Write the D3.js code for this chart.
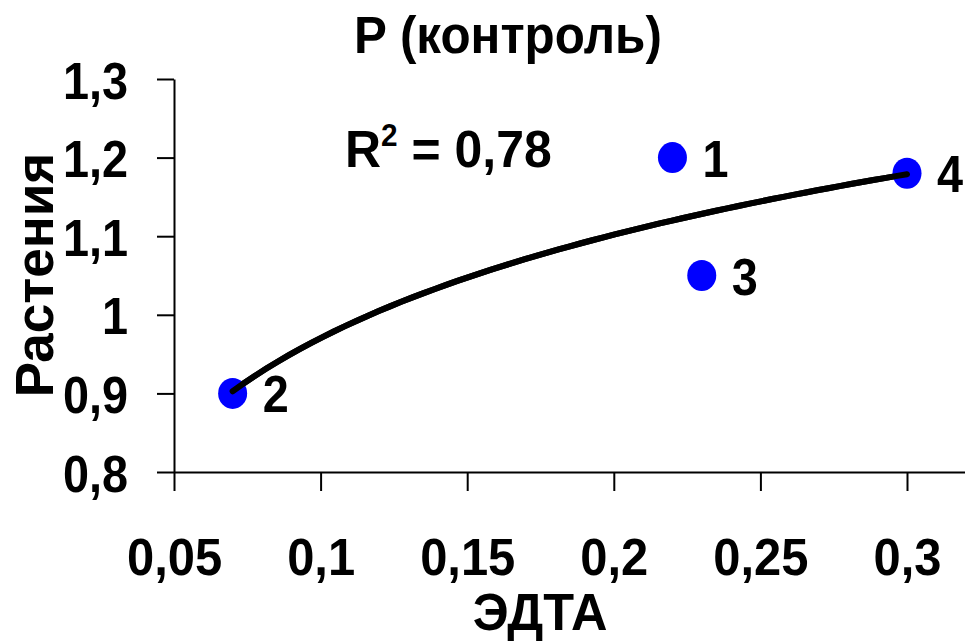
<!DOCTYPE html>
<html>
<head>
<meta charset="utf-8">
<script src="https://cdn.jsdelivr.net/npm/d3@7"></script>
<style>
  body { margin: 0; background: #fff; }
  svg { display: block; font-family: 'Liberation Sans', Arial, sans-serif; font-weight: bold; }
</style>
</head>
<body>
<script>
(function () {
  'use strict'
  const width = 965
  const height = 643

  // values
  const edta = [0.22, 0.07, 0.23, 0.3]
  const plants = [1.2, 0.9, 1.05, 1.18]
  const pointLabels = ['1', '2', '3', '4']
  const xTicks = [0.05, 0.1, 0.15, 0.2, 0.25, 0.3]
  const yTicks = [0.8, 0.9, 1.0, 1.1, 1.2, 1.3]
  const title = 'P (контроль)'
  const xTitle = 'ЭДТА'
  const yTitle = 'Растения'

  const data = edta.map((e, i) => ({ x: e, y: plants[i], label: pointLabels[i] }))

  const x = d3.scaleLinear().domain([0.05, 0.35]).range([174, 1053.6])
  const y = d3.scaleLinear().domain([0.8, 1.3]).range([472, 79])
  const comma = d => String(d).replace('.', ',')
  const squeeze = 0.9 // text in the original is a bit narrow

  const svg = d3.select('body').append('svg')
    .attr('width', width)
    .attr('height', height)

  svg.append('rect').attr('width', width).attr('height', height).attr('fill', '#fff')

  // logarithmic trendline, least squares on the points (like excel does)
  const lx = data.map(d => Math.log(d.x))
  const mx = d3.mean(lx)
  const my = d3.mean(data, d => d.y)
  let sxy = 0, sxx = 0, syy = 0
  data.forEach((d, i) => {
    sxy += (lx[i] - mx) * (d.y - my)
    sxx += (lx[i] - mx) * (lx[i] - mx)
    syy += (d.y - my) * (d.y - my)
  })
  const a = sxy / sxx
  const b = my - a * mx
  const r2 = sxy * sxy / (sxx * syy)
  const [xmin, xmax] = d3.extent(edta)
  const trend = d3.range(0, 61).map(i => {
    const xv = xmin + (xmax - xmin) * i / 60
    return [xv, a * Math.log(xv) + b]
  })
  const trendLine = d3.line().x(d => x(d[0])).y(d => y(d[1]))

  // axes
  const xAxis = svg.append('g')
    .attr('transform', 'translate(0,472)')
    .call(d3.axisBottom(x).tickValues(xTicks).tickSize(19).tickSizeOuter(0).tickFormat(comma))
  const yAxis = svg.append('g')
    .attr('transform', 'translate(174,0)')
    .call(d3.axisLeft(y).tickValues(yTicks).tickSize(17).tickSizeOuter(0).tickFormat(comma))

  svg.selectAll('.domain, .tick line')
    .attr('stroke', '#000')
    .attr('stroke-width', 2)

  xAxis.selectAll('text')
    .attr('y', 0)
    .attr('dy', null)
    .attr('fill', '#000')
    .attr('font-size', 52)
    .attr('transform', 'translate(0,103) scale(0.94,1)')

  yAxis.selectAll('text')
    .attr('x', 0)
    .attr('dy', null)
    .attr('fill', '#000')
    .attr('font-size', 52)
    .attr('text-anchor', 'end')
    .attr('transform', 'translate(-46,19) scale(0.9,1)')

  // trend line
  svg.append('path')
    .datum(trend)
    .attr('fill', 'none')
    .attr('stroke', '#000')
    .attr('stroke-width', 6)
    .attr('stroke-linecap', 'round')
    .attr('d', trendLine)

  // points
  svg.selectAll('.dot')
    .data(data)
    .enter().append('ellipse')
    .attr('class', 'dot')
    .attr('cx', d => x(d.x))
    .attr('cy', d => y(d.y))
    .attr('rx', 14.5)
    .attr('ry', 15.5)
    .attr('fill', '#0000ff')

  // trend again on top of the dots, as in the original
  svg.append('path')
    .datum(trend)
    .attr('fill', 'none')
    .attr('stroke', '#000')
    .attr('stroke-width', 6)
    .attr('stroke-linecap', 'round')
    .attr('d', trendLine)

  svg.selectAll('.point-label')
    .data(data)
    .enter().append('text')
    .attr('class', 'point-label')
    .attr('font-size', 52)
    .attr('transform', d => `translate(${x(d.x) + 30},${y(d.y) + 19}) scale(${squeeze},1)`)
    .text(d => d.label)

  // titles
  svg.append('text')
    .attr('text-anchor', 'middle')
    .attr('font-size', 52)
    .attr('transform', 'translate(508,53) scale(0.95,1)')
    .text(title)

  svg.append('text')
    .attr('text-anchor', 'middle')
    .attr('font-size', 51)
    .attr('transform', 'translate(540,630) scale(0.99,1)')
    .text(xTitle)

  svg.append('text')
    .attr('text-anchor', 'middle')
    .attr('font-size', 53)
    .attr('transform', 'translate(53,275) rotate(-90)')
    .text(yTitle)

  const rText = svg.append('text')
    .attr('font-size', 52)
    .attr('transform', 'translate(345,167) scale(0.96,1)')
  rText.append('tspan').text('R')
  rText.append('tspan').attr('font-size', 31).attr('dy', -21).text('2')
  rText.append('tspan').attr('dy', 21).text(' = ' + comma(d3.format('.2f')(r2)))
})()
</script>
</body>
</html>
